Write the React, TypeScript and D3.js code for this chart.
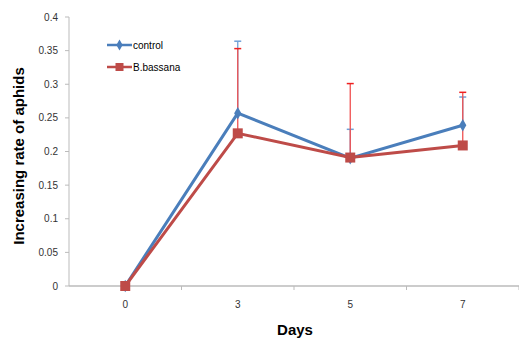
import { useEffect, useRef } from 'react'
import * as d3 from 'd3'

const days = ['0', '3', '5', '7']
const controlValues = [0, 0.257, 0.19, 0.239]
const controlErrors = [0, 0.107, 0.043, 0.042]
const bassanaValues = [0, 0.227, 0.191, 0.209]
const bassanaErrors = [0, 0.126, 0.11, 0.079]
const yTicks = [0, 0.05, 0.1, 0.15, 0.2, 0.25, 0.3, 0.35, 0.4]

const W = 519
const H = 339
const BLUE = '#4A7EBB'
const RED = '#BE4B48'
const FONT = 'Liberation Sans, Arial, sans-serif'

export default function App() {
  const svgRef = useRef<SVGSVGElement>(null)

  useEffect(() => {
    const svg = d3.select(svgRef.current)
    svg.selectAll('*').remove()

    const x = d3.scaleBand().domain(days).range([69, 519])
    const y = d3.scaleLinear().domain([0, 0.4]).range([286, 17])
    const cx = (d: string) => (x(d) as number) + x.bandwidth() / 2

    // y axis
    svg.append('line')
      .attr('x1', 69).attr('x2', 69).attr('y1', y(0.4)).attr('y2', y(0))
      .attr('stroke', '#BBBBBB').attr('stroke-width', 1)
    yTicks.forEach(t => {
      svg.append('line')
        .attr('x1', 65).attr('x2', 69).attr('y1', y(t)).attr('y2', y(t))
        .attr('stroke', '#BBBBBB')
      svg.append('text')
        .attr('x', 58).attr('y', y(t) + 3.5)
        .attr('text-anchor', 'end')
        .attr('font-family', FONT).attr('font-size', '10px').attr('fill', '#333')
        .text(String(t))
    })

    // x axis
    svg.append('line')
      .attr('x1', 69).attr('x2', 519).attr('y1', y(0)).attr('y2', y(0))
      .attr('stroke', '#BBBBBB').attr('stroke-width', 1.5)
    days.forEach(d => {
      const bx = (x(d) as number) + x.bandwidth()
      svg.append('line')
        .attr('x1', bx).attr('x2', bx).attr('y1', y(0)).attr('y2', y(0) + 4)
        .attr('stroke', '#BBBBBB')
      svg.append('text')
        .attr('x', cx(d)).attr('y', y(0) + 22)
        .attr('text-anchor', 'middle')
        .attr('font-family', FONT).attr('font-size', '10px').attr('fill', '#333')
        .text(d)
    })

    // axis titles
    svg.append('text')
      .attr('transform', `translate(24,${156}) rotate(-90)`)
      .attr('text-anchor', 'middle')
      .attr('font-family', FONT).attr('font-size', '15px').attr('font-weight', 'bold')
      .attr('fill', '#000')
      .text('Increasing rate of aphids')
    svg.append('text')
      .attr('x', 295).attr('y', 335)
      .attr('text-anchor', 'middle')
      .attr('font-family', FONT).attr('font-size', '15px').attr('font-weight', 'bold')
      .attr('fill', '#000')
      .text('Days')

    const line = d3.line<number>()
      .x((_, i) => cx(days[i]))
      .y(v => y(v))

    const errorBars = (vals: number[], errs: number[], color: string, capColor: string) => {
      vals.forEach((v, i) => {
        if (!errs[i]) return
        const px = cx(days[i])
        svg.append('line')
          .attr('x1', px).attr('x2', px).attr('y1', y(v)).attr('y2', y(v + errs[i]))
          .attr('stroke', color).attr('stroke-width', 1.3)
        svg.append('line')
          .attr('x1', px - 3.5).attr('x2', px + 3.5).attr('y1', y(v + errs[i])).attr('y2', y(v + errs[i]))
          .attr('stroke', capColor).attr('stroke-width', 1.5)
      })
    }

    errorBars(controlValues, controlErrors, '#6FA0D8', '#6FA0D8')
    errorBars(bassanaValues, bassanaErrors, '#F05050', '#EE2020')

    // control series
    svg.append('path').datum(controlValues).attr('d', line)
      .attr('fill', 'none').attr('stroke', BLUE).attr('stroke-width', 3)
    controlValues.forEach((v, i) => {
      svg.append('path')
        .attr('d', d3.symbol(d3.symbolDiamond, 45)())
        .attr('transform', `translate(${cx(days[i])},${y(v)})`)
        .attr('fill', BLUE)
    })

    // B.bassana series
    svg.append('path').datum(bassanaValues).attr('d', line)
      .attr('fill', 'none').attr('stroke', RED).attr('stroke-width', 3)
    bassanaValues.forEach((v, i) => {
      svg.append('rect')
        .attr('x', cx(days[i]) - 5).attr('y', y(v) - 5)
        .attr('width', 10).attr('height', 10)
        .attr('fill', RED)
    })

    // legend
    const legend = [
      { name: 'control', color: BLUE, y: 45, shape: 'diamond' },
      { name: 'B.bassana', color: RED, y: 67, shape: 'square' },
    ]
    legend.forEach(l => {
      svg.append('line')
        .attr('x1', 107).attr('x2', 132).attr('y1', l.y).attr('y2', l.y)
        .attr('stroke', l.color).attr('stroke-width', 2.5)
      if (l.shape === 'diamond') {
        svg.append('path')
          .attr('d', d3.symbol(d3.symbolDiamond, 35)())
          .attr('transform', `translate(119.5,${l.y})`)
          .attr('fill', l.color)
      } else {
        svg.append('rect')
          .attr('x', 115.5).attr('y', l.y - 4).attr('width', 8).attr('height', 8)
          .attr('fill', l.color)
      }
      svg.append('text')
        .attr('x', 133).attr('y', l.y + 3.5)
        .attr('font-family', FONT).attr('font-size', '10px').attr('fill', '#000')
        .text(l.name)
    })
  }, [])

  return (
    <svg
      ref={svgRef}
      width={W}
      height={H}
      style={{ display: 'block', position: 'absolute', left: 0, top: 0, background: '#fff' }}
    />
  )
}
